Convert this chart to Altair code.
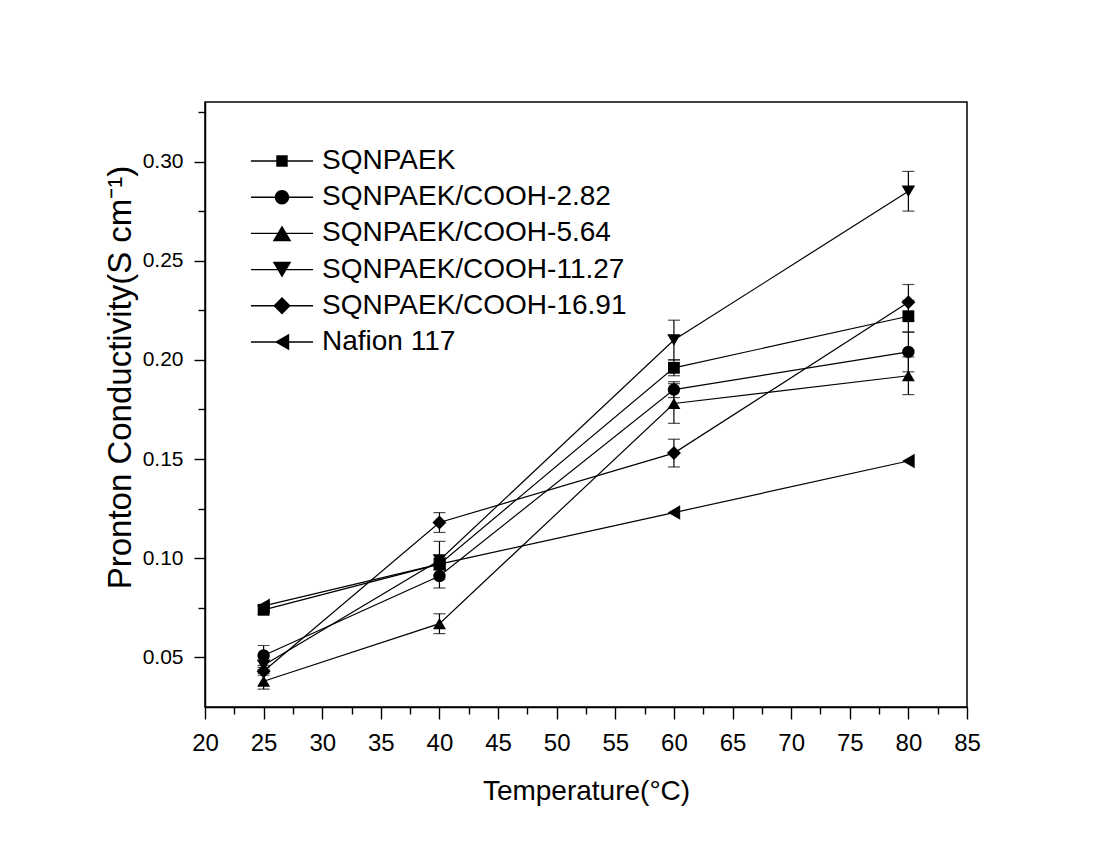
import altair as alt
import pandas as pd

temps = [25, 40, 60, 80]
series = [
    "SQNPAEK",
    "SQNPAEK/COOH-2.82",
    "SQNPAEK/COOH-5.64",
    "SQNPAEK/COOH-11.27",
    "SQNPAEK/COOH-16.91",
    "Nafion 117",
]
v_sqnpaek = [0.074, 0.097, 0.196, 0.222]
v_282 = [0.051, 0.091, 0.185, 0.204]
v_564 = [0.038, 0.067, 0.178, 0.192]
v_1127 = [0.046, 0.099, 0.210, 0.285]
v_1691 = [0.043, 0.118, 0.153, 0.229]
v_nafion = [0.076, 0.097, 0.123, 0.149]

e_sqnpaek = [0.002, 0.003, 0.004, 0.008]
e_282 = [0.005, 0.006, 0.004, 0.010]
e_564 = [0.004, 0.005, 0.010, 0.0095]
e_1127 = [0.002, 0.0095, 0.010, 0.010]
e_1691 = [0.002, 0.005, 0.007, 0.009]
e_nafion = [0.0, 0.0, 0.0, 0.0]

x_major = [20, 25, 30, 35, 40, 45, 50, 55, 60, 65, 70, 75, 80, 85]
x_minor = [22.5, 27.5, 32.5, 37.5, 42.5, 47.5, 52.5, 57.5, 62.5, 67.5, 72.5, 77.5, 82.5]
y_major = [0.05, 0.10, 0.15, 0.20, 0.25, 0.30]
y_minor = [0.075, 0.125, 0.175, 0.225, 0.275, 0.325]

values = [v_sqnpaek, v_282, v_564, v_1127, v_1691, v_nafion]
errors = [e_sqnpaek, e_282, e_564, e_1127, e_1691, e_nafion]
shapes = ["square", "circle", "triangle-up", "triangle-down", "diamond", "triangle-left"]
sizes = [140, 210, 310, 310, 290, 270]
LINE = "M-2.07,-0.045H2.07V0.045H-2.07Z"
legend_paths = [
    LINE + "M-0.38,-0.38H0.38V0.38H-0.38Z",
    LINE + "M-0.48,0A0.48,0.48 0 1,1 0.48,0A0.48,0.48 0 1,1 -0.48,0Z",
    LINE + "M0,-0.53L0.62,0.53H-0.62Z",
    LINE + "M0,0.53L-0.62,-0.53H0.62Z",
    LINE + "M0,-0.58L0.58,0L0,0.58L-0.58,0Z",
    LINE + "M-0.48,0L0.48,-0.55V0.55Z",
]

rows = []
for s, vals, errs in zip(series, values, errors):
    for t, v, e in zip(temps, vals, errs):
        rows.append({"series": s, "T": t, "v": v, "lo": v - e, "hi": v + e, "err": e})
df = pd.DataFrame(rows)

FONT = "Liberation Sans"
xs = alt.Scale(domain=[20, 85], nice=False, zero=False)
ys = alt.Scale(domain=[0.025, 0.33], nice=False, zero=False)

x_axis_major = alt.Axis(
    orient="bottom", values=x_major, format=".0f", labelFlush=False, labelOverlap=False,
    tickSize=12, labelFontSize=24, labelPadding=12,
    title="Temperature(°C)", titleFontSize=28, titlePadding=22,
    titleFontWeight="normal", grid=False,
)
y_axis_major = alt.Axis(
    orient="left", values=y_major, format=".2f", labelFlush=False, labelOverlap=False,
    tickSize=11, labelFontSize=21, labelPadding=11,
    title="Pronton Conductivity(S cm⁻¹)", titleFontSize=33, titlePadding=5,
    titleFontWeight="normal", grid=False, titleY=275,
)
x_axis_minor = alt.Axis(
    orient="bottom", values=x_minor, labels=False, tickSize=7, title=None,
    domain=False, grid=False,
)
y_axis_minor = alt.Axis(
    orient="left", values=y_minor, labels=False, tickSize=7, title=None,
    domain=False, grid=False,
)

base = alt.Chart(df)

errbars = base.transform_filter("datum.err > 0").mark_errorbar(
    ticks=alt.MarkConfig(size=12, color="black", strokeWidth=1.2),
    color="black", thickness=1.2,
).encode(
    x=alt.X("T:Q", scale=xs, axis=None),
    y=alt.Y("lo:Q", scale=ys, axis=None),
    y2="hi:Q",
    detail="series:N",
)

lines = base.mark_line(color="black", strokeWidth=1.2).encode(
    x=alt.X("T:Q", scale=xs, axis=x_axis_major),
    y=alt.Y("v:Q", scale=ys, axis=y_axis_major),
    detail="series:N",
    order="T:Q",
)

points = base.mark_point(filled=True, color="black", opacity=1).encode(
    x=alt.X("T:Q", scale=xs, axis=x_axis_minor),
    y=alt.Y("v:Q", scale=ys, axis=y_axis_minor),
    shape=alt.Shape("series:N", scale=alt.Scale(domain=series, range=shapes), legend=None),
    size=alt.Size("series:N", scale=alt.Scale(domain=series, range=sizes), legend=None),
)

legend_layer = base.mark_point(filled=True, color="black", opacity=0).encode(
    x=alt.X("T:Q", scale=xs, axis=None),
    y=alt.Y("v:Q", scale=ys, axis=None),
    shape=alt.Shape(
        "series:N",
        scale=alt.Scale(domain=series, range=legend_paths),
        legend=alt.Legend(
            title=None, orient="none", legendX=62, legendY=44,
            symbolSize=900, symbolFillColor="black", symbolStrokeWidth=0,
            symbolOpacity=1, labelFontSize=28,
            labelOffset=25, rowPadding=7.2, padding=0, labelFont=FONT,
            labelLimit=0,
        ),
    ),
)

chart = alt.layer(errbars, lines, points, legend_layer).resolve_scale(
    shape="independent", size="independent"
).resolve_axis(
    x="independent", y="independent"
).properties(
    width=762, height=605,
    padding={"left": 197, "top": 94, "right": 132, "bottom": 128},
    autosize=alt.AutoSizeParams(type="none"),
    background="white",
).configure_view(
    stroke="black", strokeWidth=1.5
).configure_axis(
    labelFont=FONT, titleFont=FONT, labelColor="black", titleColor="black",
    domainColor="black", tickColor="black", domainWidth=1.5, tickWidth=1.4,
)

chart.save("out.html", embed_options={"renderer": "svg", "actions": False})
